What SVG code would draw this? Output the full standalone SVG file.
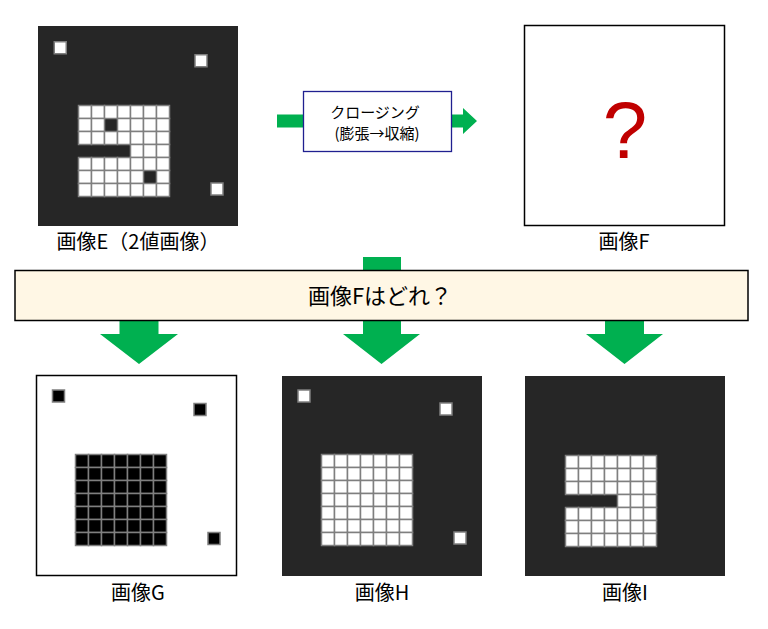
<svg xmlns="http://www.w3.org/2000/svg" xmlns:xlink="http://www.w3.org/1999/xlink" width="768" height="629" viewBox="0 0 768 629">
<style>
.dark{fill:#262626}
.frame{fill:#ffffff;stroke:#000000;stroke-width:1.5}
.wc{fill:#ffffff;stroke:#7f7f7f;stroke-width:1.5}
.bc{fill:#000000;stroke:#7f7f7f;stroke-width:1.5}
.green{fill:#00b050}
.lbl{font-family:"Noto Sans CJK JP","Noto Sans",sans-serif;font-size:20px;fill:#000;text-anchor:middle}
.proc{font-family:"Noto Sans CJK JP","Noto Sans",sans-serif;font-size:15px;fill:#000;text-anchor:middle}
</style>
<defs>
<rect id="wc" class="wc" width="13" height="13"/>
<rect id="bc" class="bc" width="13" height="13"/>
<g id="wrow">
<use href="#wc" x="0"/><use href="#wc" x="13"/><use href="#wc" x="26"/><use href="#wc" x="39"/><use href="#wc" x="52"/><use href="#wc" x="65"/><use href="#wc" x="78"/>
</g>
<g id="brow">
<use href="#bc" x="0"/><use href="#bc" x="13"/><use href="#bc" x="26"/><use href="#bc" x="39"/><use href="#bc" x="52"/><use href="#bc" x="65"/><use href="#bc" x="78"/>
</g>
</defs>

<g id="connectors">
<polygon class="green" points="277,114.5 463,114.5 463,108 477,121 463,134 463,127.5 277,127.5"/>
<polygon class="green" points="363,257 401,257 401,334 420,334 381.5,364 343,334 363,334"/>
<polygon class="green" points="119.5,300 158.5,300 158.5,334 178,334 139,364 100,334 119.5,334"/>
<polygon class="green" points="605,300 644,300 644,334 663,334 624.5,364 586,334 605,334"/>
</g>

<g id="imageE">
<rect class="dark" x="38" y="26" width="200" height="200"/>
<rect class="wc" x="54.25" y="41.75" width="12" height="12"/>
<rect class="wc" x="195" y="54.75" width="12" height="12"/>
<rect class="wc" x="211" y="183" width="12" height="12"/>
<g transform="translate(78.5,105.5)">
<use href="#wrow" y="0"/>
<use href="#wc" x="0" y="13"/><use href="#wc" x="13" y="13"/><use href="#wc" x="39" y="13"/><use href="#wc" x="52" y="13"/><use href="#wc" x="65" y="13"/><use href="#wc" x="78" y="13"/>
<use href="#wrow" y="26"/>
<use href="#wc" x="52" y="39"/><use href="#wc" x="65" y="39"/><use href="#wc" x="78" y="39"/>
<use href="#wrow" y="52"/>
<use href="#wc" x="0" y="65"/><use href="#wc" x="13" y="65"/><use href="#wc" x="26" y="65"/><use href="#wc" x="39" y="65"/><use href="#wc" x="52" y="65"/><use href="#wc" x="78" y="65"/>
<use href="#wrow" y="78"/>
</g>
<text class="lbl" x="138" y="249">画像E（2値画像）</text>
</g>

<g id="process">
<rect x="303.5" y="91.5" width="148" height="60" fill="#ffffff" stroke="#202090" stroke-width="1.3"/>
<text class="proc" x="375" y="118">クロージング</text>
<text class="proc" x="377" y="139">(膨張→収縮)</text>
</g>

<g id="imageF">
<rect class="frame" x="524.5" y="25.5" width="200" height="200"/>
<text x="625" y="158" font-family="'Liberation Sans',sans-serif" font-size="80" fill="#c00000" text-anchor="middle">?</text>
<text class="lbl" x="624" y="249">画像F</text>
</g>

<g id="question">
<rect x="15" y="270.5" width="733" height="50" fill="#fff7e5" stroke="#000" stroke-width="1.5"/>
<text x="380" y="303.5" font-family="'Noto Sans CJK JP','Noto Sans',sans-serif" font-size="22" fill="#000" text-anchor="middle">画像Fはどれ？</text>
</g>

<g id="imageG">
<rect class="frame" x="36.5" y="375.5" width="200" height="200"/>
<rect class="bc" x="52.5" y="390" width="12" height="12"/>
<rect class="bc" x="194" y="403.5" width="12" height="12"/>
<rect class="bc" x="208" y="532.5" width="12" height="12"/>
<g transform="translate(75.5,454.5)">
<use href="#brow" y="0"/><use href="#brow" y="13"/><use href="#brow" y="26"/><use href="#brow" y="39"/><use href="#brow" y="52"/><use href="#brow" y="65"/><use href="#brow" y="78"/>
</g>
<text class="lbl" x="138" y="600">画像G</text>
</g>

<g id="imageH">
<rect class="dark" x="282" y="376" width="200" height="200"/>
<rect class="wc" x="298" y="390" width="12" height="12"/>
<rect class="wc" x="440" y="403" width="12" height="12"/>
<rect class="wc" x="454" y="532" width="12" height="12"/>
<g transform="translate(321.5,454.5)">
<use href="#wrow" y="0"/><use href="#wrow" y="13"/><use href="#wrow" y="26"/><use href="#wrow" y="39"/><use href="#wrow" y="52"/><use href="#wrow" y="65"/><use href="#wrow" y="78"/>
</g>
<text class="lbl" x="382" y="600">画像H</text>
</g>

<g id="imageI">
<rect class="dark" x="525" y="376" width="200" height="200"/>
<g transform="translate(565.5,455.5)">
<use href="#wrow" y="0"/><use href="#wrow" y="13"/><use href="#wrow" y="26"/>
<use href="#wc" x="52" y="39"/><use href="#wc" x="65" y="39"/><use href="#wc" x="78" y="39"/>
<use href="#wrow" y="52"/><use href="#wrow" y="65"/><use href="#wrow" y="78"/>
</g>
<text class="lbl" x="625" y="600">画像I</text>
</g>
</svg>
